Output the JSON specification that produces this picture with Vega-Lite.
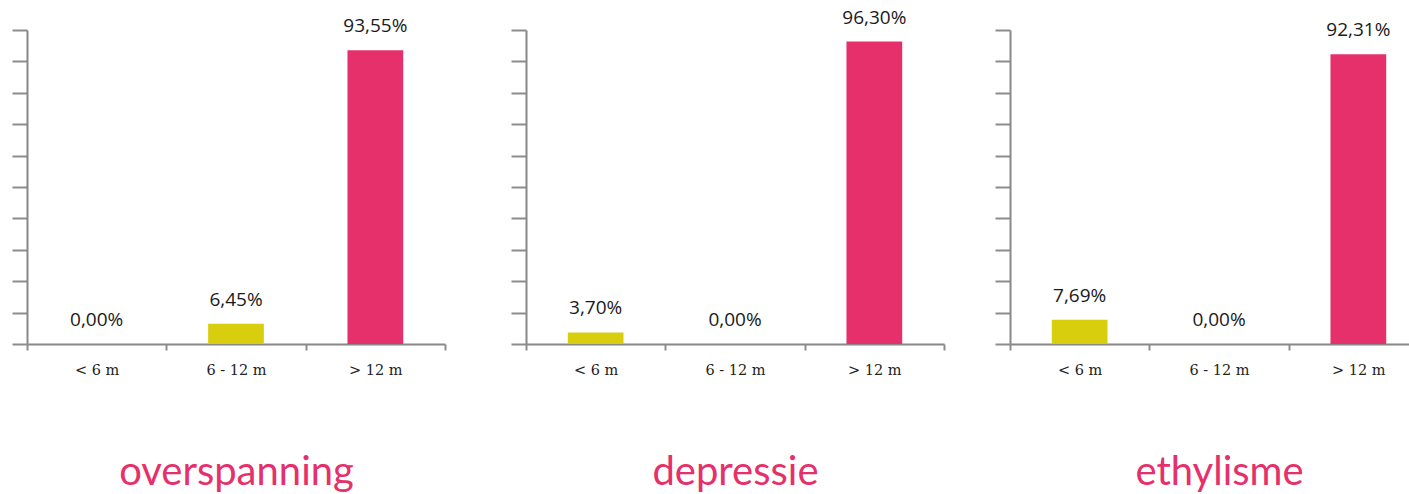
{
  "$schema": "https://vega.github.io/schema/vega-lite/v6.json",
  "padding": {"left": 11, "top": 8, "right": 0, "bottom": 0},
  "background": "white",
  "config": {
    "locale": {
      "number": {"decimal": ",", "thousands": ".", "grouping": [3], "currency": ["€ ", ""]}
    },
    "view": {"stroke": null},
    "axis": {
      "grid": false,
      "domainColor": "#888888",
      "domainWidth": 2,
      "tickColor": "#8c8c8c",
      "tickWidth": 2
    },
    "axisX": {
      "tickBand": "extent",
      "tickSize": 6,
      "labelAngle": 0,
      "labelFont": "DejaVu Serif",
      "labelFontSize": 14.5,
      "labelColor": "#222222",
      "labelPadding": 13,
      "titleFont": "Lato",
      "titleFontSize": 40,
      "titleFontWeight": "normal",
      "titleColor": "#e6306b",
      "titlePadding": 76
    },
    "axisY": {
      "labels": false,
      "tickSize": 15,
      "title": null,
      "values": [0, 0.1, 0.2, 0.3, 0.4, 0.5, 0.6, 0.7, 0.8, 0.9, 1]
    }
  },
  "data": {
    "values": [
      {"condition": "overspanning", "period": "< 6 m", "share": 0.0},
      {"condition": "overspanning", "period": "6 - 12 m", "share": 0.0645},
      {"condition": "overspanning", "period": "> 12 m", "share": 0.9355},
      {"condition": "depressie", "period": "< 6 m", "share": 0.037},
      {"condition": "depressie", "period": "6 - 12 m", "share": 0.0},
      {"condition": "depressie", "period": "> 12 m", "share": 0.963},
      {"condition": "ethylisme", "period": "< 6 m", "share": 0.0769},
      {"condition": "ethylisme", "period": "6 - 12 m", "share": 0.0},
      {"condition": "ethylisme", "period": "> 12 m", "share": 0.9231}
    ]
  },
  "spacing": 49,
  "hconcat": [
    {
      "spacing": 64,
      "hconcat": [
        {
          "width": 418,
          "height": 314,
          "transform": [{"filter": "datum.condition === 'overspanning'"}],
          "encoding": {
            "x": {"field": "period", "type": "nominal", "sort": ["< 6 m", "6 - 12 m", "> 12 m"], "scale": {"paddingInner": 0, "paddingOuter": 0}, "axis": {"title": "overspanning"}},
            "y": {"field": "share", "type": "quantitative", "scale": {"domain": [0, 1], "nice": false}}
          },
          "layer": [
            {
              "mark": {"type": "bar", "width": {"band": 0.4}},
              "encoding": {"color": {"field": "period", "type": "nominal", "scale": {"domain": ["< 6 m", "6 - 12 m", "> 12 m"], "range": ["#d8ce0e", "#d8ce0e", "#e6306b"]}, "legend": null}}
            },
            {
              "mark": {"type": "text", "dy": -18, "baseline": "alphabetic", "font": "Open Sans", "fontSize": 19, "color": "#1a1a1a"},
              "encoding": {"text": {"field": "share", "type": "quantitative", "format": ".2%"}}
            }
          ]
        },
        {
          "width": 418,
          "height": 314,
          "transform": [{"filter": "datum.condition === 'depressie'"}],
          "encoding": {
            "x": {"field": "period", "type": "nominal", "sort": ["< 6 m", "6 - 12 m", "> 12 m"], "scale": {"paddingInner": 0, "paddingOuter": 0}, "axis": {"title": "depressie"}},
            "y": {"field": "share", "type": "quantitative", "scale": {"domain": [0, 1], "nice": false}}
          },
          "layer": [
            {
              "mark": {"type": "bar", "width": {"band": 0.4}},
              "encoding": {"color": {"field": "period", "type": "nominal", "scale": {"domain": ["< 6 m", "6 - 12 m", "> 12 m"], "range": ["#d8ce0e", "#d8ce0e", "#e6306b"]}, "legend": null}}
            },
            {
              "mark": {"type": "text", "dy": -18, "baseline": "alphabetic", "font": "Open Sans", "fontSize": 19, "color": "#1a1a1a"},
              "encoding": {"text": {"field": "share", "type": "quantitative", "format": ".2%"}}
            }
          ]
        }
      ]
    },
    {
      "width": 418,
      "height": 314,
      "transform": [{"filter": "datum.condition === 'ethylisme'"}],
      "encoding": {
        "x": {"field": "period", "type": "nominal", "sort": ["< 6 m", "6 - 12 m", "> 12 m"], "scale": {"paddingInner": 0, "paddingOuter": 0}, "axis": {"title": "ethylisme"}},
        "y": {"field": "share", "type": "quantitative", "scale": {"domain": [0, 1], "nice": false}}
      },
      "layer": [
        {
          "mark": {"type": "bar", "width": {"band": 0.4}},
          "encoding": {"color": {"field": "period", "type": "nominal", "scale": {"domain": ["< 6 m", "6 - 12 m", "> 12 m"], "range": ["#d8ce0e", "#d8ce0e", "#e6306b"]}, "legend": null}}
        },
        {
          "mark": {"type": "text", "dy": -18, "baseline": "alphabetic", "font": "Open Sans", "fontSize": 19, "color": "#1a1a1a"},
          "encoding": {"text": {"field": "share", "type": "quantitative", "format": ".2%"}}
        }
      ]
    }
  ]
}
